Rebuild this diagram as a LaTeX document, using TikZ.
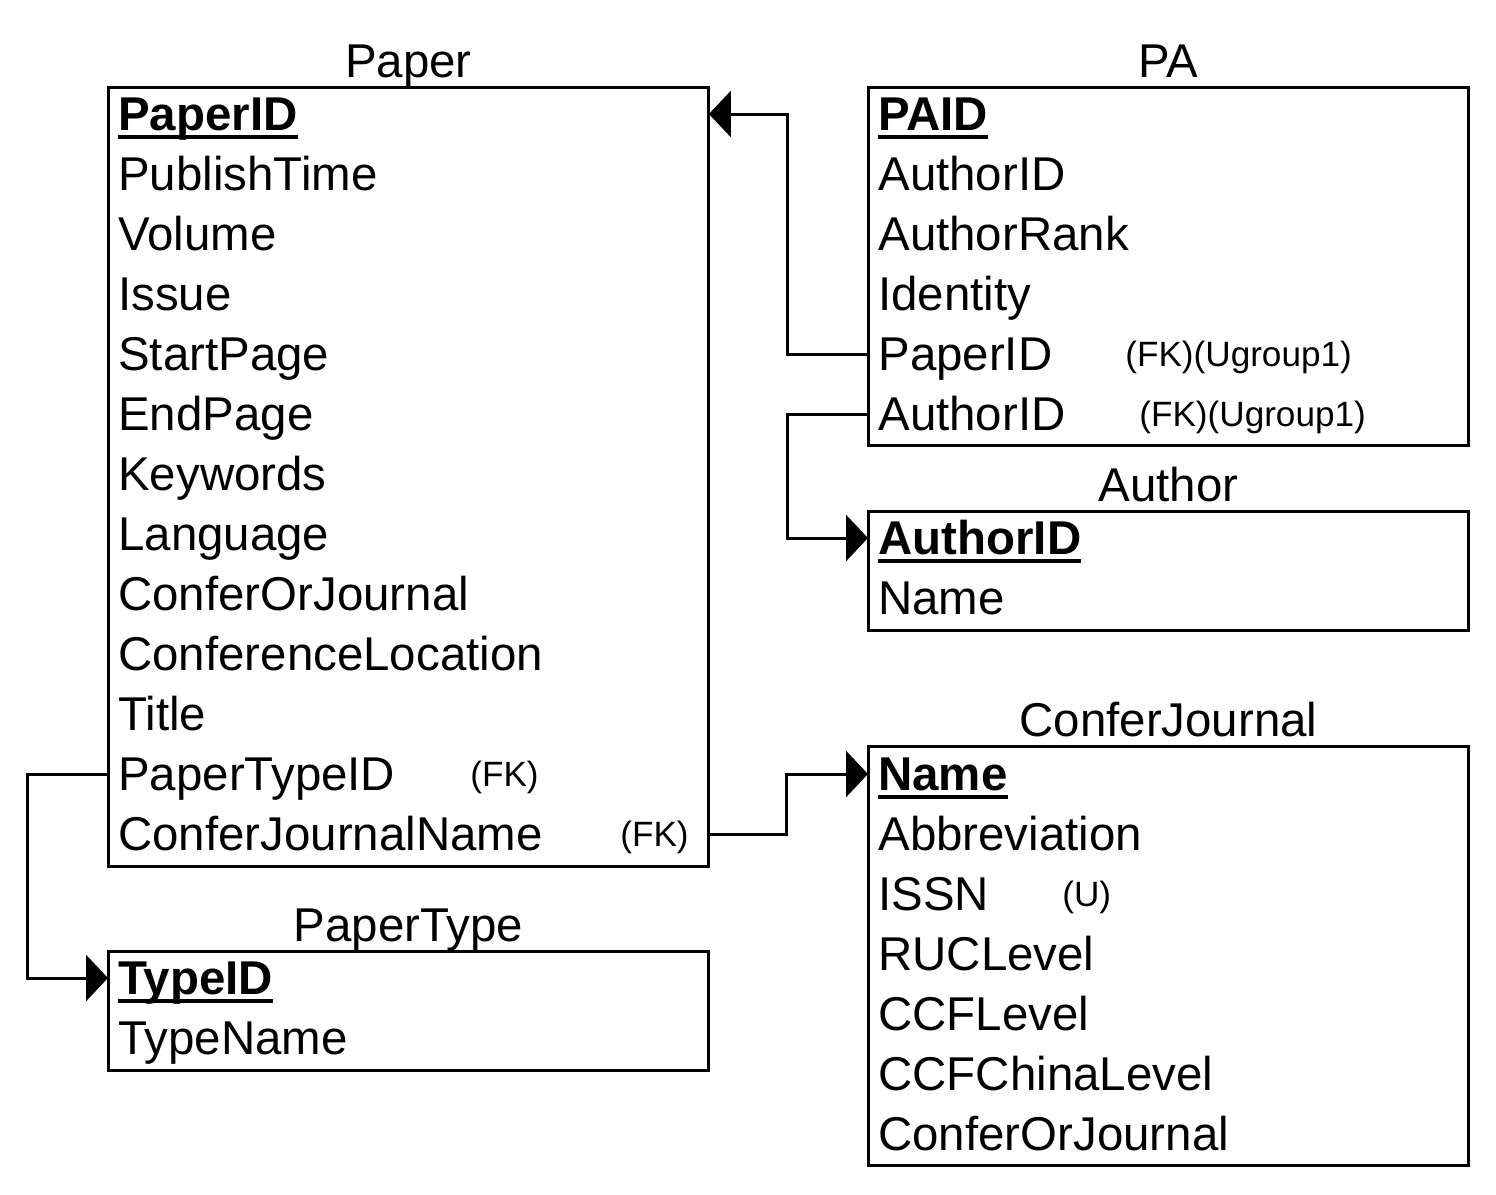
\documentclass[tikz,border=0pt]{standalone}
\usepackage{fontspec}
\setmainfont{Liberation Sans}
\usetikzlibrary{arrows.meta}

\newcommand{\chave}[1]{\setbox0\hbox{\bfseries #1}\rlap{\rule[-0.17cm]{\wd0}{0.07cm}}\box0}

\begin{document}
\begin{tikzpicture}[
        x=0.02cm, y=-0.02cm,
        tabela/.style={
            draw,
            line width=0.06cm,
            anchor=north west,
            inner sep=0,
            outer sep=0,
            minimum width=12.02cm
        },
        campo/.style={
            anchor=west,
            inner sep=0,
            font=\fontsize{27}{32}\selectfont,
            text height=0.74cm,
            text depth=0.1cm
        },
        nota/.style={anchor=base west, inner sep=0, font=\fontsize{20}{24}\selectfont},
        titulo/.style={anchor=base, inner sep=0, font=\fontsize{27}{32}\selectfont},
        seta/.style={-{Triangle[length=0.44cm,width=0.92cm]}, line width=0.06cm}
    ]
    \useasboundingbox (0,0) rectangle (1496,1194);

    % Paper
    \node[tabela, minimum height=15.6cm] (paper) at (108,87) {};
    \node[titulo] (paper-t) at (408.5,77) {Paper};
    \node[campo] (p1) at (118,114) {\chave{PaperID}};
    \node[campo] (p2) at (118,174) {PublishTime};
    \node[campo] (p3) at (118,234) {Volume};
    \node[campo] (p4) at (118,294) {Issue};
    \node[campo] (p5) at (118,354) {StartPage};
    \node[campo] (p6) at (118,414) {EndPage};
    \node[campo] (p7) at (118,474) {Keywords};
    \node[campo] (p8) at (118,534) {Language};
    \node[campo] (p9) at (118,594) {ConferOrJournal};
    \node[campo] (p10) at (118,654) {ConferenceLocation};
    \node[campo] (p11) at (118,714) {Title};
    \node[campo] (p12) at (118,774) {PaperTypeID};
    \node[campo] (p13) at (118,834) {ConferJournalName};
    \node[nota] (p12-fk) at (470,786) {(FK)};
    \node[nota] (p13-fk) at (620,846) {(FK)};

    % PA
    \node[tabela, minimum height=7.18cm] (pa) at (868,87) {};
    \node[titulo] (pa-t) at (1168.5,77) {PA};
    \node[campo] (pa1) at (878,114) {\chave{PAID}};
    \node[campo] (pa2) at (878,174) {AuthorID};
    \node[campo] (pa3) at (878,234) {AuthorRank};
    \node[campo] (pa4) at (878,294) {Identity};
    \node[campo] (pa5) at (878,354) {PaperID};
    \node[campo] (pa6) at (878,414) {AuthorID};
    \node[nota] (pa5-fk) at (1125,366) {(FK)(Ugroup1)};
    \node[nota] (pa6-fk) at (1139,426) {(FK)(Ugroup1)};

    % Author
    \node[tabela, minimum height=2.4cm] (author) at (868,511) {};
    \node[titulo] (author-t) at (1168.5,501) {Author};
    \node[campo] (a1) at (878,538) {\chave{AuthorID}};
    \node[campo] (a2) at (878,598) {Name};

    % ConferJournal
    \node[tabela, minimum height=8.4cm] (cj) at (868,746) {};
    \node[titulo] (cj-t) at (1168.5,736) {ConferJournal};
    \node[campo] (c1) at (878,774) {\chave{Name}};
    \node[campo] (c2) at (878,834) {Abbreviation};
    \node[campo] (c3) at (878,894) {ISSN};
    \node[campo] (c4) at (878,954) {RUCLevel};
    \node[campo] (c5) at (878,1014) {CCFLevel};
    \node[campo] (c6) at (878,1074) {CCFChinaLevel};
    \node[campo] (c7) at (878,1134) {ConferOrJournal};
    \node[nota] (c3-u) at (1062,906) {(U)};

    % PaperType
    \node[tabela, minimum height=2.4cm] (ptype) at (108,951) {};
    \node[titulo] (ptype-t) at (408.5,941) {PaperType};
    \node[campo] (t1) at (118,978) {\chave{TypeID}};
    \node[campo] (t2) at (118,1038) {TypeName};

    % chaves estrangeiras
    \draw[seta] (pa.west |- pa5) -- ++(-81,0) |- (paper.east |- p1);
    \draw[seta] (pa.west |- pa6) -- ++(-81,0) |- (author.west |- a1);
    \draw[seta] (paper.east |- p13) -- ++(78,0) |- (cj.west |- c1);
    \draw[seta] (paper.west |- p12) -- ++(-81,0) |- (ptype.west |- t1);

\end{tikzpicture}
\end{document}
